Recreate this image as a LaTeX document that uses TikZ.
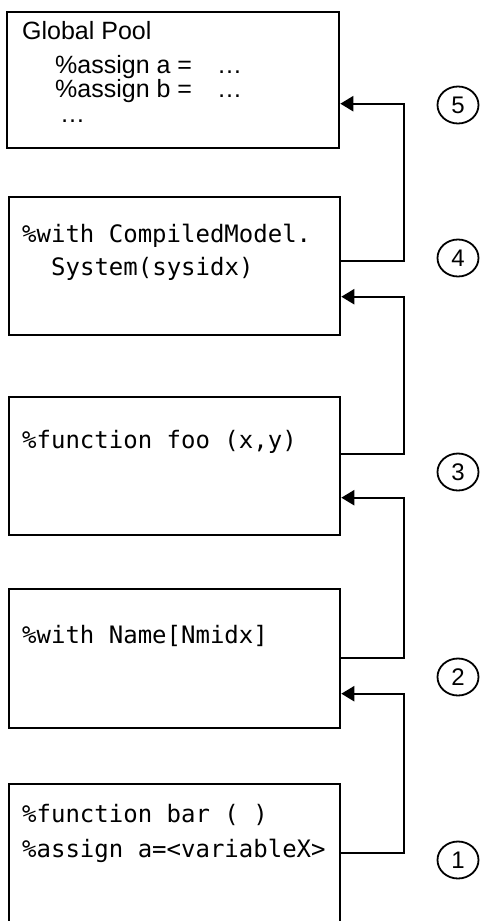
\documentclass[tikz,border=0pt]{standalone}
\usepackage{fontspec}
\setmainfont{Liberation Sans}
\setmonofont{DejaVu Sans Mono}
\usepackage{tikz}
\usetikzlibrary{arrows.meta}
\usetikzlibrary{positioning}
\usetikzlibrary{shapes.geometric}

\begin{document}
\begin{tikzpicture}[x=1pt,y=-1pt,
  block/.style={draw,line width=2.6pt,minimum width=331pt,minimum height=138pt,inner sep=0pt},
  code/.style={anchor=base west,inner sep=0pt,font=\ttfamily\fontsize{24}{28}\selectfont},
  plain/.style={anchor=base west,inner sep=0pt,font=\fontsize{25}{28}\selectfont},
  step num/.style={ellipse,draw,line width=1.8pt,minimum width=41pt,minimum height=37pt,
    inner sep=0pt,font=\fontsize{24}{24}\selectfont},
  link/.style={line width=2.2pt,-{Triangle[length=13pt,width=15pt]}}]

  \clip (0,0) rectangle (483,921);

  % the five scopes, outermost on top
  \node[block,minimum width=332pt,minimum height=136pt] (pool) at (173,80) {};
  \node[block] (sys) at (174.5,266) {};
  \node[block] (foo) at (174.5,466) {};
  \node[block,minimum height=139pt] (name) at (174.5,658.5) {};
  \node[block,minimum height=160pt] (bar) at (174.5,864) {};

  % texts
  \node[plain] (gp) at (22,39) {Global Pool};
  \node[plain] (asa) at (55,73) {\%assign a =\quad\ldots};
  \node[plain] (asb) at (55,97) {\%assign b =\quad\ldots};
  \node[plain] (more) at (60,122) {\ldots};

  \node[code] (sys1) at (22,242) {\%with CompiledModel.};
  \node[code] (sys2) at (51,275) {System(sysidx)};

  \node[code] (foo1) at (22,448) {\%function foo (x,y)};

  \node[code] (name1) at (22,643) {\%with Name[Nmidx]};

  \node[code] (bar1) at (22,822) {\%function bar ( )};
  \node[code] (bar2) at (22,857) {\%assign a=<variableX>};

  % lookup path
  \draw[link] ([yshift=-70pt]bar.north east) -- ++(63,0) |- ([yshift=-106pt]name.north east);
  \draw[link] ([yshift=-70pt]name.north east) -- ++(63,0) |- ([yshift=-102pt]foo.north east);
  \draw[link] ([yshift=-58pt]foo.north east) -- ++(63,0) |- ([yshift=-101pt]sys.north east);
  \draw[link] ([yshift=-65pt]sys.north east) -- ++(63,0) |- ([yshift=-93pt]pool.north east);

  % step numbers
  \node[step num] (n5) at (458,105) {5};
  \node[step num] (n4) at (458,258) {4};
  \node[step num] (n3) at (458,472) {3};
  \node[step num] (n2) at (458,677) {2};
  \node[step num] (n1) at (458,860) {1};
\end{tikzpicture}
\end{document}
